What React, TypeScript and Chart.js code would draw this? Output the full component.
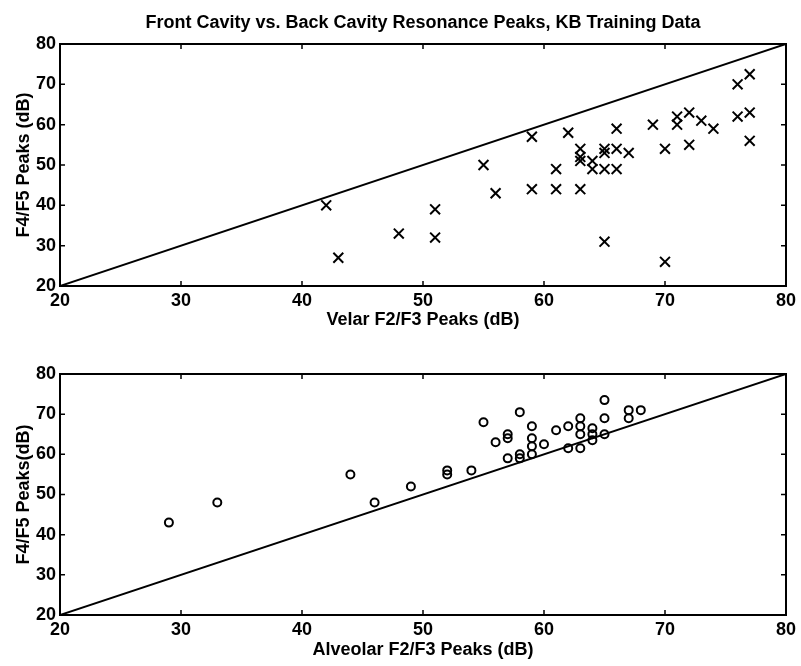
import React, { useEffect, useRef } from "react";
import { Chart, registerables } from "chart.js";

Chart.register(...registerables);

const chartTitle = "Front Cavity vs. Back Cavity Resonance Peaks, KB Training Data";
const yAxisTitleTop = "F4/F5 Peaks (dB)";
const yAxisTitleBottom = "F4/F5 Peaks(dB)";
const xAxisTitleTop = "Velar F2/F3 Peaks (dB)";
const xAxisTitleBottom = "Alveolar F2/F3 Peaks (dB)";
const axisTicks = [20, 30, 40, 50, 60, 70, 80];
const diagonal = [20, 80];

const velarX = [42, 43, 48, 51, 51, 55, 56, 59, 59, 61, 61, 62, 63, 63, 63, 63, 64, 64, 65, 65, 65, 65, 66, 66, 66, 67, 69, 70, 70, 71, 71, 72, 72, 73, 74, 76, 76, 77, 77, 77];
const velarY = [40, 27, 33, 39, 32, 50, 43, 57, 44, 49, 44, 58, 54, 52, 51, 44, 51, 49, 54, 53, 49, 31, 59, 54, 49, 53, 60, 54, 26, 62, 60, 63, 55, 61, 59, 70, 62, 72.5, 63, 56];

const alveolarX = [29, 33, 44, 46, 49, 52, 52, 54, 55, 56, 57, 57, 57, 58, 58, 58, 59, 59, 59, 59, 60, 61, 62, 62, 63, 63, 63, 63, 64, 64, 64, 65, 65, 65, 67, 67, 68];
const alveolarY = [43, 48, 55, 48, 52, 56, 55, 56, 68, 63, 65, 64, 59, 70.5, 60, 59, 67, 64, 62, 60, 62.5, 66, 67, 61.5, 69, 67, 65, 61.5, 66.5, 65, 63.5, 73.5, 69, 65, 71, 69, 71];

const FONT = "'Liberation Sans', Arial, Helvetica, sans-serif";

const framePlugin = {
  id: "matlabFrame",
  afterDatasetsDraw(chart: any) {
    const { ctx, chartArea: a, scales } = chart;
    const xs = scales.x;
    const ys = scales.y;
    ctx.save();
    ctx.strokeStyle = "#000";
    ctx.lineWidth = 2;
    ctx.strokeRect(a.left, a.top, a.right - a.left, a.bottom - a.top);
    ctx.lineWidth = 1.5;
    const len = 5;
    ctx.beginPath();
    axisTicks.forEach((v) => {
      const px = xs.getPixelForValue(v);
      ctx.moveTo(px, a.bottom);
      ctx.lineTo(px, a.bottom - len);
      ctx.moveTo(px, a.top);
      ctx.lineTo(px, a.top + len);
      const py = ys.getPixelForValue(v);
      ctx.moveTo(a.left, py);
      ctx.lineTo(a.left + len, py);
      ctx.moveTo(a.right, py);
      ctx.lineTo(a.right - len, py);
    });
    ctx.stroke();
    ctx.restore();
  },
};

type PanelProps = {
  xs: number[];
  ys: number[];
  marker: string;
  radius: number;
  title?: string;
  xTitle: string;
  yTitle: string;
  padTop: number;
  xAxisHeight: number;
  xTitlePadBottom: number;
};

function Panel(props: PanelProps) {
  const ref = useRef<HTMLCanvasElement | null>(null);
  useEffect(() => {
    if (!ref.current) return;
    const pts = props.xs.map((x, i) => ({ x, y: props.ys[i] }));
    const diag = diagonal.map((v) => ({ x: v, y: v }));
    const chart = new Chart(ref.current, {
      type: "scatter",
      data: {
        datasets: [
          {
            data: diag,
            showLine: true,
            borderColor: "#000",
            borderWidth: 2,
            pointRadius: 0,
            fill: false,
          },
          {
            data: pts,
            pointStyle: props.marker as any,
            pointRadius: props.radius,
            pointBorderColor: "#000",
            pointBackgroundColor: "rgba(0,0,0,0)",
            pointBorderWidth: 2,
            showLine: false,
          },
        ],
      },
      options: {
        animation: false,
        responsive: false,
        layout: { padding: { left: 0, right: 15, top: props.padTop, bottom: 0 } },
        plugins: {
          legend: { display: false },
          tooltip: { enabled: false },
          title: props.title
            ? {
                display: true,
                fullSize: false,
                text: props.title,
                color: "#000",
                font: { family: FONT, size: 18, weight: "bold" },
                padding: { top: 12, bottom: 10.4 },
              }
            : { display: false },
        },
        scales: {
          x: {
            type: "linear",
            min: 20,
            max: 80,
            ticks: { stepSize: 10, color: "#000", padding: 4, font: { family: FONT, size: 18, weight: "bold" } },
            grid: { display: false, drawTicks: false },
            border: { display: false },
            title: {
              display: true,
              text: props.xTitle,
              color: "#000",
              font: { family: FONT, size: 18, weight: "bold" },
              padding: { top: 0, bottom: props.xTitlePadBottom },
            },
            afterFit: (s: any) => {
              s.height = props.xAxisHeight;
            },
          },
          y: {
            type: "linear",
            min: 20,
            max: 80,
            ticks: { stepSize: 10, color: "#000", padding: 4, font: { family: FONT, size: 18, weight: "bold" } },
            grid: { display: false, drawTicks: false },
            border: { display: false },
            title: {
              display: true,
              text: props.yTitle,
              color: "#000",
              font: { family: FONT, size: 18, weight: "bold" },
              padding: { top: 13, bottom: 0 },
            },
            afterFit: (s: any) => {
              s.width = 60;
            },
          },
        },
      },
      plugins: [framePlugin],
    });
    return () => chart.destroy();
  }, []);
  return <canvas ref={ref} width={801} height={333} style={{ display: "block" }} />;
}

export default function App() {
  return (
    <div style={{ position: "absolute", left: 0, top: 0, width: 801, height: 666, background: "#fff" }}>
      <Panel
        xs={velarX}
        ys={velarY}
        marker="crossRot"
        radius={7}
        title={chartTitle}
        xTitle={xAxisTitleTop}
        yTitle={yAxisTitleTop}
        padTop={0}
        xAxisHeight={47}
        xTitlePadBottom={2}
      />
      <Panel
        xs={alveolarX}
        ys={alveolarY}
        marker="circle"
        radius={4}
        xTitle={xAxisTitleBottom}
        yTitle={yAxisTitleBottom}
        padTop={41}
        xAxisHeight={51}
        xTitlePadBottom={5}
      />
    </div>
  );
}
